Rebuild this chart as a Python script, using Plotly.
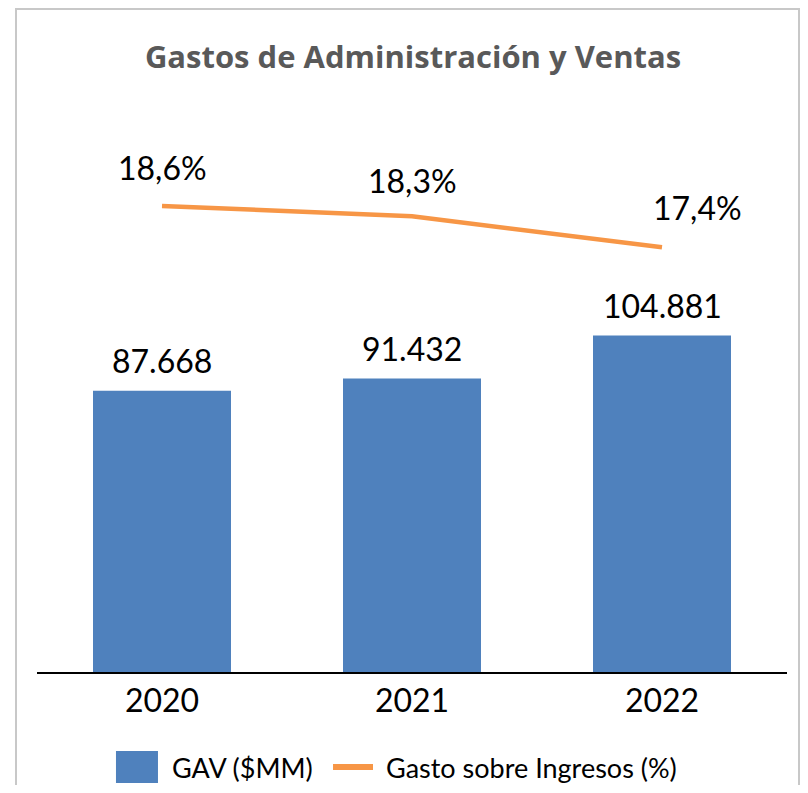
import plotly.graph_objects as go

# ---- data ----
years = ["2020", "2021", "2022"]
gav_mm = [87668, 91432, 104881]          # GAV ($MM)
gasto_pct = [18.6, 18.3, 17.4]           # Gasto sobre Ingresos (%)
title_text = "Gastos de Administración y Ventas"
bar_name = "GAV ($MM)"
line_name = "Gasto sobre Ingresos (%)"

BLUE = "#4F81BD"
ORANGE = "#F79646"
FONT = "Lato, 'Liberation Sans', Arial, sans-serif"
TITLE_FONT = "'Open Sans', Lato, Arial, sans-serif"

def fmt_int(v):
    return f"{v:,}".replace(",", ".")

def fmt_pct(v):
    return f"{v:.1f}%".replace(".", ",")

fig = go.Figure()
fig.add_trace(go.Bar(
    x=years, y=gav_mm, name=bar_name, width=0.552,
    marker=dict(color=BLUE, line=dict(width=0)),
    showlegend=False, yaxis="y",
))
fig.add_trace(go.Scatter(
    x=years, y=gasto_pct, name=line_name, mode="lines",
    line=dict(color=ORANGE, width=4.5),
    showlegend=False, yaxis="y2",
))

annotations = []
for i, v in enumerate(gav_mm):
    annotations.append(dict(x=i, y=v, xref="x", yref="y", text=fmt_int(v),
                            showarrow=False, yanchor="middle", yshift=30,
                            font=dict(family=FONT, size=32, color="#000000")))
line_xshift = [0, 0, 35]
line_yshift = [38, 36, 40]
for i, v in enumerate(gasto_pct):
    annotations.append(dict(x=i, y=v, xref="x", yref="y2", text=fmt_pct(v),
                            showarrow=False, yanchor="middle",
                            xshift=line_xshift[i], yshift=line_yshift[i],
                            font=dict(family=FONT, size=32, color="#000000")))

# custom legend texts
annotations.append(dict(x=0.1773, y=-0.1661, xref="paper", yref="paper", text=bar_name,
                        showarrow=False, xanchor="left", yanchor="middle",
                        font=dict(family=FONT, size=27, color="#000000")))
annotations.append(dict(x=0.4627, y=-0.1661, xref="paper", yref="paper", text=line_name,
                        showarrow=False, xanchor="left", yanchor="middle",
                        font=dict(family=FONT, size=27, color="#000000")))

shapes = [
    # outer chart border
    dict(type="rect", xref="paper", yref="paper", x0=-0.028, x1=1.016, y0=-0.30, y1=1.1591,
         line=dict(color="#C8C8C8", width=2), fillcolor="rgba(0,0,0,0)", layer="below"),
    # legend swatches
    dict(type="rect", xref="paper", yref="paper", x0=0.1053, x1=0.1613, y0=-0.1941, y1=-0.1381,
         line=dict(width=0), fillcolor=BLUE),
    dict(type="line", xref="paper", yref="paper", x0=0.3947, x1=0.448, y0=-0.1661, y1=-0.1661,
         line=dict(color=ORANGE, width=6)),
]

W, H = 792, 777
fig.update_layout(
    width=W, height=H,
    margin=dict(l=29, r=W - 779, t=92, b=H - 664, autoexpand=False),
    paper_bgcolor="white", plot_bgcolor="white",
    title=dict(text=f"<b>{title_text}</b>", x=405 / W, xanchor="center", y=1 - 49 / H,
               yanchor="middle", font=dict(family=TITLE_FONT, size=31, color="#595959")),
    xaxis=dict(type="category", range=[-0.5, 2.5], autorange=False, automargin=False,
               showline=True, linecolor="#000000", linewidth=2,
               ticks="", showgrid=False, tickfont=dict(family=FONT, size=32, color="#000000")),
    yaxis=dict(range=[0, 178250], visible=False, showgrid=False, automargin=False),
    yaxis2=dict(range=[5.053, 21.68], overlaying="y", side="right", visible=False,
                showgrid=False, automargin=False),
    annotations=annotations,
    shapes=shapes,
    showlegend=False,
    bargap=0.448,
)

fig.write_html("out.html")
